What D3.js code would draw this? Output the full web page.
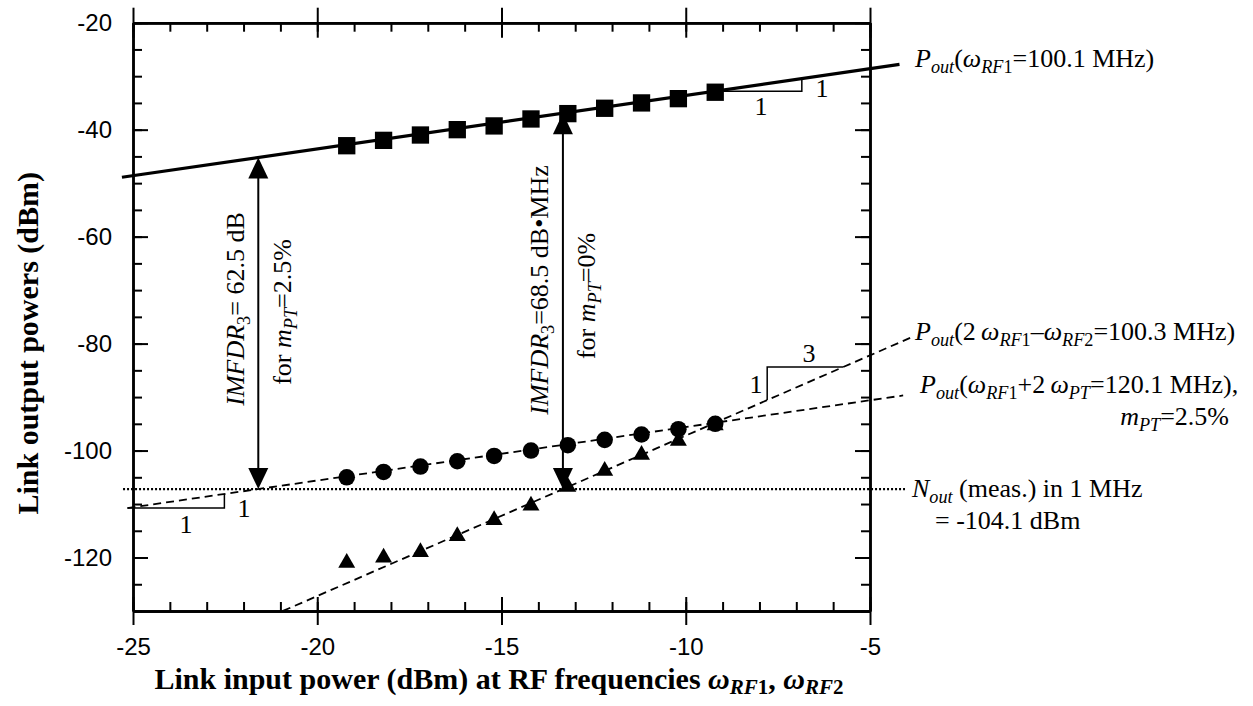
<!DOCTYPE html>
<html>
<head>
<meta charset="utf-8">
<script src="https://cdn.jsdelivr.net/npm/d3@7"></script>
<style>
  body { margin: 0; background: #fff; }
  svg { display: block; }
  .axis .domain { stroke: #000; stroke-width: 2.5; }
  .axis .tick line { stroke: #000; stroke-width: 2; }
  .axis .tick text { font-family: "Liberation Sans", Arial, sans-serif; font-size: 24px; fill: #000; }
  .lab { font-family: "Liberation Serif", "Times New Roman", serif; font-size: 26px; fill: #000; }
  .title { font-family: "Liberation Serif", "Times New Roman", serif; font-size: 30px; font-weight: bold; fill: #000; }
</style>
</head>
<body>
<div id="chart"></div>
<script>
// measured points (dBm)
var inputPower = [-19.2, -18.2, -17.2, -16.2, -15.2, -14.2, -13.2, -12.2, -11.2, -10.2, -9.2];
var fundPower = [-43, -42, -41, -40, -39.3, -38, -37, -36, -35, -34.2, -33];
var ptPower = [-105, -104, -103, -102, -101, -100, -99, -98, -97, -96, -95];
var imd3Power = [-121, -120, -119, -116, -113, -110.3, -106.8, -103.8, -100.8, -98.2, -95.3];
var noiseOut = -107.2;

// fitted lines: [slope, intercept, x start, x end]
var fundFit = [1, -23.6, -25.3, -4.2];
var ptFit = [1, -85.6, -25.15, -4.1];
var imd3Fit = [3, -67.2, -20.93, -3.85];
var noiseRange = [-25.27, -4.05];

var xTicks = [-25, -20, -15, -10, -5];
var yTicks = [-20, -40, -60, -80, -100, -120];

var width = 1253, height = 706;
var margin = { top: 22.7, right: 383, bottom: 95, left: 133 };

var svg = d3.select("#chart").append("svg")
    .attr("width", width)
    .attr("height", height);

var x = d3.scaleLinear().domain([-25, -5]).range([margin.left, width - margin.right]);
var y = d3.scaleLinear().domain([-130, -20]).range([height - margin.bottom, margin.top]);

var x0 = x.range()[0], x1 = x.range()[1], yb = y.range()[0], yt = y.range()[1];
var xMinor = d3.range(-25, -4.99, 1);
var yMinor = d3.range(-130, -19.99, 5);

function fitY(f, v) { return f[0] * v + f[1]; }

// ---- axes ----
function addAxis(axis, tx, ty) {
  return svg.append("g").attr("class", "axis")
      .attr("transform", "translate(" + tx + "," + ty + ")")
      .call(axis.tickSizeOuter(0));
}
// bottom: majors cross the line, minors inward
addAxis(d3.axisBottom(x).tickValues(xTicks).tickSize(14).tickPadding(13)
  .tickFormat(d3.format("d")), 0, yb);
addAxis(d3.axisBottom(x).tickValues(xTicks).tickSize(-14).tickFormat(""), 0, yb);
addAxis(d3.axisBottom(x).tickValues(xMinor).tickSize(-9).tickFormat(""), 0, yb);
// top
addAxis(d3.axisTop(x).tickValues(xTicks).tickSize(15).tickFormat(""), 0, yt);
addAxis(d3.axisTop(x).tickValues(xTicks).tickSize(-15).tickFormat(""), 0, yt);
addAxis(d3.axisTop(x).tickValues(xMinor).tickSize(-9).tickFormat(""), 0, yt);
// left
addAxis(d3.axisLeft(y).tickValues(yTicks).tickSize(-15).tickPadding(21)
  .tickFormat(d3.format("d")), x0, 0);
addAxis(d3.axisLeft(y).tickValues(yMinor).tickSize(-9).tickFormat(""), x0, 0);
// right
addAxis(d3.axisRight(y).tickValues(yTicks).tickSize(-15).tickFormat(""), x1, 0);
addAxis(d3.axisRight(y).tickValues(yMinor).tickSize(-9).tickFormat(""), x1, 0);

svg.selectAll(".axis .tick text").text(function() {
  return this.textContent.replace("\u2212", "-");
});

// ---- lines ----
var line = d3.line().x(function(d) { return x(d[0]); }).y(function(d) { return y(d[1]); });

function fitPts(f) { return [[f[2], fitY(f, f[2])], [f[3], fitY(f, f[3])]]; }

svg.append("path").attr("d", line(fitPts(fundFit)))
    .attr("fill", "none").attr("stroke", "#000").attr("stroke-width", 3.2);
svg.append("path").attr("d", line(fitPts(ptFit)))
    .attr("fill", "none").attr("stroke", "#000").attr("stroke-width", 1.8)
    .attr("stroke-dasharray", "8,5");
svg.append("path").attr("d", line(fitPts(imd3Fit)))
    .attr("fill", "none").attr("stroke", "#000").attr("stroke-width", 1.8)
    .attr("stroke-dasharray", "8,5");
svg.append("path").attr("d", line([[noiseRange[0], noiseOut], [noiseRange[1], noiseOut]]))
    .attr("fill", "none").attr("stroke", "#000").attr("stroke-width", 2.2)
    .attr("stroke-dasharray", "2,2");

// ---- slope triangles ----
function slopeTri(f, a, b, vertFirst) {
  var pts = vertFirst
    ? [[a, fitY(f, a)], [a, fitY(f, b)], [b, fitY(f, b)]]
    : [[a, fitY(f, a)], [b, fitY(f, a)], [b, fitY(f, b)]];
  svg.append("path").attr("d", line(pts))
      .attr("fill", "none").attr("stroke", "#000").attr("stroke-width", 1.5);
}
slopeTri(fundFit, -9.2, -6.85, false);
slopeTri(ptFit, -25.15, -22.52, false);
slopeTri(imd3Fit, -7.79, -5.73, true);

var ones = [
  { t: "1", x: 761, y: 115 }, { t: "1", x: 822, y: 97 },
  { t: "1", x: 186, y: 533 }, { t: "1", x: 244, y: 517 },
  { t: "3", x: 809, y: 362 }, { t: "1", x: 756, y: 393 }
];
svg.selectAll(".one").data(ones).enter().append("text")
    .attr("class", "lab").attr("text-anchor", "middle")
    .attr("x", function(d) { return d.x; }).attr("y", function(d) { return d.y; })
    .text(function(d) { return d.t; });

// ---- markers ----
function markers(vals, type, size) {
  svg.append("g").selectAll("path").data(vals).enter().append("path")
      .attr("d", d3.symbol().type(type).size(size))
      .attr("transform", function(d, i) {
        return "translate(" + x(inputPower[i]) + "," + y(d) + ")";
      })
      .attr("fill", "#000");
}
markers(fundPower, d3.symbolSquare, 300);
markers(ptPower, d3.symbolCircle, 215);
markers(imd3Power, d3.symbolTriangle, 125);

// ---- IMFDR arrows ----
function arrow(xv, yTop, yBot) {
  var px = x(xv), pt = y(yTop), pb = y(yBot);
  svg.append("line").attr("x1", px).attr("x2", px).attr("y1", pt + 10).attr("y2", pb - 10)
      .attr("stroke", "#000").attr("stroke-width", 2);
  svg.append("path").attr("d", "M" + px + "," + pt + "L" + (px - 10) + "," + (pt + 21) + "L" + (px + 10) + "," + (pt + 21) + "Z");
  svg.append("path").attr("d", "M" + px + "," + pb + "L" + (px - 10) + "," + (pb - 21) + "L" + (px + 10) + "," + (pb - 21) + "Z");
}
var xa = noiseOut - ptFit[1];
var xb = (noiseOut - imd3Fit[1]) / imd3Fit[0];
arrow(xa, fitY(fundFit, xa), noiseOut);
arrow(xb, fitY(fundFit, xb), noiseOut);

// ---- rich text helper ----
function rich(sel, parts, drop) {
  var cur = 0;
  parts.forEach(function(p) {
    var sub = p[1].indexOf("s") >= 0;
    var shift = sub ? (drop || 6) : 0;
    sel.append("tspan")
        .attr("dy", shift - cur)
        .style("font-style", p[1].indexOf("i") >= 0 ? "italic" : "normal")
        .style("font-size", sub ? "0.7em" : null)
        .text(p[0]);
    cur = shift;
  });
  return sel;
}
function label(px, py, parts, anchor, rot, cls, drop) {
  var t = svg.append("text").attr("class", cls || "lab")
      .attr("text-anchor", anchor || "start")
      .attr("transform", "translate(" + px + "," + py + ")" + (rot ? " rotate(-90)" : ""));
  return rich(t, parts, drop);
}

label(915, 67, [["P", "i"], ["out", "is"], ["(", ""], ["\u03c9", "i"], ["RF", "is"], ["1", "s"], ["=100.1 MHz)", ""]]);
label(915, 340, [["P", "i"], ["out", "is"], ["(2\u2009", ""], ["\u03c9", "i"], ["RF", "is"], ["1", "s"], ["\u2013", ""], ["\u03c9", "i"], ["RF", "is"], ["2", "s"], ["=100.3 MHz)", ""]]);
label(920, 393, [["P", "i"], ["out", "is"], ["(", ""], ["\u03c9", "i"], ["RF", "is"], ["1", "s"], ["+2\u2009", ""], ["\u03c9", "i"], ["PT", "is"], ["=120.1 MHz),", ""]]);
label(1229, 425, [["m", "i"], ["PT", "is"], ["=2.5%", ""]], "end");
label(912, 497, [["N", "i"], ["out", "is"], [" (meas.) in 1 MHz", ""]]);
label(935, 529, [["= -104.1 dBm", ""]]);

label(244, 309, [["IMFDR", "i"], ["3", "s"], ["= 62.5 dB", ""]], "middle", true);
label(291, 312, [["for ", ""], ["m", "i"], ["PT", "is"], ["=2.5%", ""]], "middle", true);
label(548, 290, [["IMFDR", "i"], ["3", "s"], ["=68.5 dB\u2022MHz", ""]], "middle", true);
label(595, 296, [["for ", ""], ["m", "i"], ["PT", "is"], ["=0%", ""]], "middle", true);

// ---- axis titles ----
label(499, 689, [["Link input power (dBm) at RF frequencies ", ""], ["\u03c9", "i"], ["RF", "is"], ["1", "s"], [", ", ""], ["\u03c9", "i"], ["RF", "is"], ["2", "s"]], "middle", false, "title", 5);
label(38, 172, [["Link output powers (dBm)", ""]], "end", true, "title");
</script>
</body>
</html>
